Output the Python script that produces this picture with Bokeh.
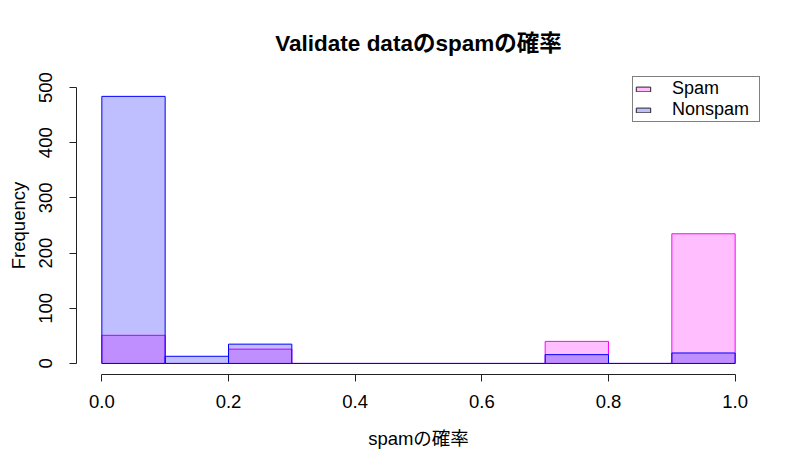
from bokeh.plotting import figure
from bokeh.models import ColumnDataSource, FixedTicker, PrintfTickFormatter, Legend, LegendItem
from bokeh.embed import file_html
from bokeh.resources import INLINE

# ---- data ----
bin_edges = [0.0, 0.1, 0.2, 0.3, 0.4, 0.5, 0.6, 0.7, 0.8, 0.9, 1.0]
spam_counts = [51, 0, 26, 0, 0, 0, 0, 40, 0, 235]
nonspam_counts = [484, 13, 35, 0, 0, 0, 0, 16, 0, 19]
x_ticks = [0.0, 0.2, 0.4, 0.6, 0.8, 1.0]
y_ticks = [0, 100, 200, 300, 400, 500]
legend_labels = ["Spam", "Nonspam"]
title_text = "Validate dataのspamの確率"
x_label = "spamの確率"
y_label = "Frequency"

FONT = "'Liberation Sans', 'Noto Sans CJK JP', sans-serif"
TXT = "18.5px"

p = figure(width=792, height=462, output_backend="svg", toolbar_location=None,
           x_range=(-0.04, 1.04), y_range=(-20, 520),
           min_border_left=76, min_border_right=32, min_border_top=76, min_border_bottom=88,
           title=title_text)
p.outline_line_color = None
p.grid.visible = False
p.background_fill_color = "white"
p.border_fill_color = "white"

src_spam = ColumnDataSource(dict(left=bin_edges[:-1], right=bin_edges[1:],
                                 top=spam_counts, bottom=[0] * len(spam_counts)))
src_non = ColumnDataSource(dict(left=bin_edges[:-1], right=bin_edges[1:],
                                top=nonspam_counts, bottom=[0] * len(nonspam_counts)))

p.quad(left="left", right="right", top="top", bottom="bottom", source=src_spam,
       fill_color="#FF00FF", fill_alpha=0.25, line_color="#FF00FF", line_width=1)
p.quad(left="left", right="right", top="top", bottom="bottom", source=src_non,
       fill_color="#0000FF", fill_alpha=0.25, line_color="#0000FF", line_width=1)

# legend swatches (renderers with no drawable data, carrying only the legend style)
nan = float("nan")
def blank():
    return ColumnDataSource(dict(left=[nan], right=[nan], top=[nan], bottom=[nan]))
r_leg_s = p.quad(left="left", right="right", top="top", bottom="bottom",
                 source=blank(), fill_color="#FFBFFF", line_color="#222222")
r_leg_n = p.quad(left="left", right="right", top="top", bottom="bottom",
                 source=blank(), fill_color="#BFBFFF", line_color="#222222")

legend = Legend(items=[LegendItem(label=legend_labels[0], renderers=[r_leg_s]),
                       LegendItem(label=legend_labels[1], renderers=[r_leg_n])],
                location="top_right", margin=0, padding=1, spacing=0,
                glyph_width=18, glyph_height=6, label_standoff=20, label_height=6,
                label_width=86,
                border_line_color="black", border_line_width=1,
                background_fill_color="white", background_fill_alpha=1,
                label_text_font=FONT, label_text_font_size="18px", label_text_color="black")
p.add_layout(legend)

# title
p.title.text_font = FONT
p.title.text_font_size = "22.5px"
p.title.text_font_style = "bold"
p.title.align = "center"
p.title.text_color = "black"
p.title.vertical_align = "top"
p.title.standoff = 37

# axes
xa = p.xaxis[0]
xa.ticker = FixedTicker(ticks=x_ticks)
xa.formatter = PrintfTickFormatter(format="%.1f")
xa.bounds = (x_ticks[0], x_ticks[-1])
ya = p.yaxis[0]
ya.ticker = FixedTicker(ticks=y_ticks)
ya.bounds = (y_ticks[0], y_ticks[-1])
ya.major_label_orientation = "vertical"
xa.axis_label = x_label
ya.axis_label = y_label
for ax in (xa, ya):
    ax.major_tick_out = 7
    ax.major_tick_in = 0
    ax.minor_tick_out = 0
    ax.minor_tick_in = 0
    ax.axis_line_color = "#222222"
    ax.major_tick_line_color = "#222222"
    ax.major_label_text_font = FONT
    ax.major_label_text_font_size = TXT
    ax.major_label_text_color = "black"
    ax.axis_label_text_font = FONT
    ax.axis_label_text_font_size = TXT
    ax.axis_label_text_font_style = "normal"
    ax.axis_label_text_color = "black"
xa.major_label_standoff = 13
xa.axis_label_standoff = 17
ya.major_label_standoff = 17
ya.axis_label_standoff = 8

open("out.html", "w").write(file_html(p, INLINE))
